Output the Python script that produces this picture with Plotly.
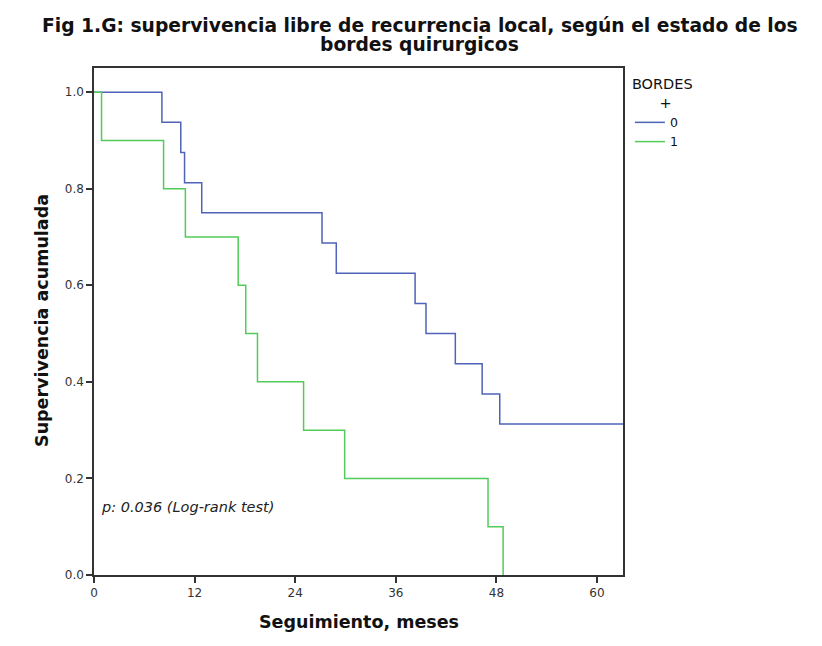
import plotly.graph_objects as go

# Kaplan-Meier step data
t_bordes0 = [0, 8.1, 10.35, 10.8, 12.85, 27.2, 28.9, 38.3, 39.6, 43.1, 46.3, 48.4, 63.1]
s_bordes0 = [1.0, 0.9375, 0.875, 0.8125, 0.75, 0.6875, 0.625, 0.5625, 0.5, 0.4375, 0.375, 0.3125, 0.3125]
t_bordes1 = [0, 0.9, 8.3, 10.9, 17.2, 18.1, 19.5, 25.0, 29.9, 47.0, 48.8]
s_bordes1 = [1.0, 0.9, 0.8, 0.7, 0.6, 0.5, 0.4, 0.3, 0.2, 0.1, 0.0]

x_ticks = [0, 12, 24, 36, 48, 60]
y_ticks = [0.0, 0.2, 0.4, 0.6, 0.8, 1.0]
y_ticklabels = ["0.0", "0.2", "0.4", "0.6", "0.8", "1.0"]

title_line1 = "Fig 1.G: supervivencia libre de recurrencia local, según el estado de los"
title_line2 = "bordes quirurgicos"

blue = "#4f63b8"
green = "#52cc58"
FONT = "DejaVu Sans"

fig = go.Figure()
fig.add_trace(go.Scatter(x=t_bordes0, y=s_bordes0, mode="lines", line_shape="hv",
                         line=dict(color=blue, width=1.5), name="0"))
fig.add_trace(go.Scatter(x=t_bordes1, y=s_bordes1, mode="lines", line_shape="hv",
                         line=dict(color=green, width=1.5), name="1"))

axis_font = dict(family=FONT, size=12, color="#333")
title_font = dict(family=FONT, size=18.7, color="#111")
atitle_font = dict(family=FONT, size=17.5, color="#111")

fig.update_layout(
    width=822, height=646,
    margin=dict(l=94, r=199, t=68, b=71),
    paper_bgcolor="white", plot_bgcolor="white",
    showlegend=True,
    xaxis=dict(range=[0, 63.1], tickvals=x_ticks, ticks="outside", ticklen=6, tickwidth=1.5,
               tickcolor="#333", showgrid=False, zeroline=False, showline=True, linecolor="#333",
               linewidth=1.5, mirror=True, tickfont=axis_font),
    yaxis=dict(range=[0, 1.05], tickvals=y_ticks, ticktext=y_ticklabels, ticks="outside", ticklen=6,
               tickwidth=1.5, tickcolor="#333", showgrid=False, zeroline=False, showline=True,
               linecolor="#333", linewidth=1.5, mirror=True, tickfont=axis_font),
    legend=dict(title=dict(text="BORDES<br>      +", font=dict(family=FONT, size=14.5, color="#111")),
                x=1.013, xanchor="left", y=0.996, yanchor="top",
                font=dict(family=FONT, size=12.5, color="#111"),
                itemwidth=30, tracegroupgap=0, bgcolor="rgba(0,0,0,0)"),
    annotations=[
        dict(text="<b>" + title_line1 + "</b>", x=0.616, y=1.0848, xref="paper", yref="paper",
             xanchor="center", yanchor="middle", showarrow=False, font=title_font),
        dict(text="<b>" + title_line2 + "</b>", x=0.616, y=1.0454, xref="paper", yref="paper",
             xanchor="center", yanchor="middle", showarrow=False, font=title_font),
        dict(text="<b>Seguimiento, meses</b>", x=0.501, y=-0.0927, xref="paper", yref="paper",
             xanchor="center", yanchor="middle", showarrow=False, font=atitle_font),
        dict(text="<b>Supervivencia acumulada</b>", x=-0.0983, y=0.503, xref="paper", yref="paper",
             xanchor="center", yanchor="middle", showarrow=False, textangle=-90, font=atitle_font),
        dict(text="<i>p: 0.036 (Log-rank test)</i>", x=0.0094, y=0.134, xref="paper", yref="paper",
             xanchor="left", yanchor="middle", showarrow=False,
             font=dict(family=FONT, size=14.5, color="#222")),
    ],
)

fig.write_html("out.html")
